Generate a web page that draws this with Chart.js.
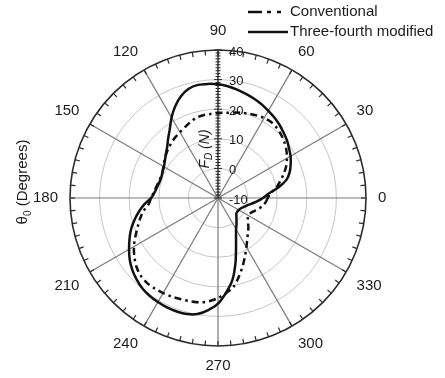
<!DOCTYPE html>
<html>
<head>
<meta charset="utf-8">
<title>Drag force polar plot</title>
<script src="https://cdn.jsdelivr.net/npm/chart.js@4.4.1/dist/chart.umd.min.js"></script>
<style>
  html, body { margin: 0; padding: 0; background: #fff; }
  #wrap { width: 445px; height: 378px; position: relative; }
</style>
</head>
<body>
<div id="wrap"><canvas id="polarChart"></canvas></div>
<script>
// sample angles, degrees counter-clockwise from the right-hand axis
const thetaDeg = [0, 5, 10, 15, 20, 25, 30, 35, 40, 45, 50, 55, 60, 65, 70, 75, 80, 85,
  90, 95, 100, 105, 110, 115, 120, 125, 130, 135, 140, 145, 150, 155, 160, 165, 170, 175,
  180, 185, 190, 195, 200, 205, 210, 215, 220, 225, 230, 235, 240, 245, 250, 255, 260, 265,
  270, 275, 280, 285, 290, 295, 300, 305, 310, 315, 320, 325, 330, 335, 340, 345, 350, 355];

// F_D (N) at each angle
const conventional = [6.8, 7.8, 10.0, 11.7, 13.6, 15.4, 16.9, 18.2, 19.3, 20.2, 20.9, 21.3,
  21.2, 20.8, 20.3, 19.8, 19.3, 18.9, 18.7, 18.5, 18.4, 18.1, 17.3, 16.4, 15.7, 15.1, 14.4,
  13.7, 12.9, 12.1, 11.3, 10.7, 10.6, 10.8, 11.2, 11.8, 12.6, 13.5, 15.6, 17.3, 18.9, 20.8,
  22.8, 24.5, 26.0, 27.0, 27.4, 27.3, 27.1, 26.8, 26.4, 26.1, 25.8, 25.0, 23.8, 22.2, 20.4,
  17.4, 14.4, 11.6, 9.2, 7.2, 5.7, 4.5, 3.3, 2.3, 1.8, 2.1, 3.0, 4.2, 5.3, 6.2];

const threeFourth = [5.2, 7.2, 10.8, 14.0, 15.8, 17.1, 18.3, 19.3, 20.4, 21.3, 22.3, 23.2,
  24.0, 24.9, 25.7, 26.4, 27.2, 27.9, 28.4, 28.7, 28.8, 28.2, 26.6, 24.2, 21.4, 18.4, 16.2,
  14.3, 13.0, 11.9, 11.1, 10.7, 10.4, 10.5, 10.9, 11.5, 12.6, 15.0, 17.2, 19.3, 21.3, 23.0,
  24.7, 26.4, 27.8, 28.9, 29.8, 30.3, 30.6, 30.8, 30.8, 30.6, 29.8, 28.0, 25.7, 22.0, 18.1,
  12.8, 7.8, 4.4, 2.2, 0.9, -0.3, -1.2, -1.9, -2.0, -1.9, -1.6, -0.9, 0.0, 1.4, 3.2];

const radialTicks = [-10, 0, 10, 20, 30, 40];
const angleTickLabels = [0, 30, 60, 90, 120, 150, 180, 210, 240, 270, 300, 330];
const seriesNames = ['Conventional', 'Three-fourth modified'];

const FONT = '"Liberation Sans", Arial, Helvetica, sans-serif';
const INK = '#1c1c1c';

// radar runs clockwise, so walk the angles backwards starting at 0
const order = thetaDeg.map((t, i) => (thetaDeg.length - i) % thetaDeg.length);
const labels = order.map(k => thetaDeg[k]);
const idxOf = theta => labels.indexOf(theta);

// rim ticks, radial axis, labels, titles and legend
const polarDecor = {
  id: 'polarDecor',
  beforeDatasetsDraw(chart) {
    const r = chart.scales.r;
    const ctx = chart.ctx;
    const R = r.drawingArea;
    const cx = r.xCenter, cy = r.yCenter;
    ctx.save();

    // small inward ticks on the outer circle
    ctx.strokeStyle = '#2b2b2b';
    ctx.lineWidth = 1.2;
    labels.forEach((t, i) => {
      const a = r.getPointPosition(i, R);
      const b = r.getPointPosition(i, R - 5);
      ctx.beginPath();
      ctx.moveTo(a.x, a.y);
      ctx.lineTo(b.x, b.y);
      ctx.stroke();
    });

    // radial value axis along the 90 degree spoke
    ctx.strokeStyle = '#222';
    ctx.lineWidth = 1;
    ctx.beginPath();
    ctx.moveTo(cx, cy);
    ctx.lineTo(cx, cy - R);
    ctx.stroke();
    for (let v = -10; v <= 40; v++) {
      const y = cy - r.getDistanceFromCenterForValue(v);
      const len = v % 10 === 0 ? 4 : 2.5;
      ctx.beginPath();
      ctx.moveTo(cx - len, y);
      ctx.lineTo(cx + len, y);
      ctx.stroke();
    }

    ctx.fillStyle = INK;
    ctx.font = '13px ' + FONT;
    ctx.textAlign = 'left';
    ctx.textBaseline = 'middle';
    radialTicks.forEach(v => {
      const y = cy - r.getDistanceFromCenterForValue(v);
      ctx.fillText(String(v), cx + 11, y + 2);
    });

    // angle labels around the rim
    ctx.font = '15px ' + FONT;
    angleTickLabels.forEach(t => {
      const p = r.getPointPosition(idxOf(t), R + 12);
      const c = Math.cos(t * Math.PI / 180), s = Math.sin(t * Math.PI / 180);
      ctx.textAlign = Math.abs(c) < 0.01 ? 'center' : (c > 0 ? 'left' : 'right');
      ctx.textBaseline = Math.abs(s) < 0.01 ? 'middle' : (s > 0 ? 'bottom' : 'top');
      ctx.fillText(String(t), p.x, p.y);
    });
    ctx.restore();
  },
  afterDraw(chart) {
    const ctx = chart.ctx;
    ctx.save();
    ctx.fillStyle = INK;
    ctx.textBaseline = 'middle';

    // F_D (N) written up the radial axis
    ctx.save();
    ctx.translate(205, 149);
    ctx.rotate(-Math.PI / 2);
    ctx.font = 'italic 14px ' + FONT;
    const wF = ctx.measureText('F').width;
    ctx.font = 'italic 10px ' + FONT;
    const wD = ctx.measureText('D').width;
    ctx.font = 'italic 14px ' + FONT;
    const wN = ctx.measureText(' (N)').width;
    let x = -(wF + wD + wN) / 2;
    ctx.textAlign = 'left';
    ctx.fillText('F', x, 0);
    x += wF;
    ctx.font = 'italic 10px ' + FONT;
    ctx.fillText('D', x, 4);
    x += wD;
    ctx.font = 'italic 14px ' + FONT;
    ctx.fillText(' (N)', x, 0);
    ctx.restore();

    // angle axis title on the left
    ctx.save();
    ctx.translate(23, 182);
    ctx.rotate(-Math.PI / 2);
    ctx.font = '15px ' + FONT;
    const wT = ctx.measureText('\u03B8').width;
    const wRest = ctx.measureText(' (Degrees)').width;
    ctx.font = '10px ' + FONT;
    const w0 = ctx.measureText('0').width;
    x = -(wT + w0 + wRest) / 2;
    ctx.textAlign = 'left';
    ctx.font = '15px ' + FONT;
    ctx.fillText('\u03B8', x, 0);
    x += wT;
    ctx.font = '10px ' + FONT;
    ctx.fillText('0', x, 5);
    x += w0;
    ctx.font = '15px ' + FONT;
    ctx.fillText(' (Degrees)', x, 0);
    ctx.restore();

    // legend
    ctx.strokeStyle = '#111';
    ctx.lineWidth = 2.5;
    ctx.setLineDash([14, 5, 4, 6, 4, 10]);
    ctx.beginPath();
    ctx.moveTo(248, 12);
    ctx.lineTo(282, 12);
    ctx.stroke();
    ctx.setLineDash([]);
    ctx.beginPath();
    ctx.moveTo(248, 32);
    ctx.lineTo(288, 32);
    ctx.stroke();
    ctx.font = '15px ' + FONT;
    ctx.textAlign = 'left';
    ctx.fillText(seriesNames[0], 290, 12);
    ctx.fillText(seriesNames[1], 290, 32);
    ctx.restore();
  }
};

const ctx = document.getElementById('polarChart').getContext('2d');
const polarChart = new Chart(ctx, {
  type: 'radar',
  data: {
    labels: labels,
    datasets: [{
      label: seriesNames[0],
      data: order.map(k => conventional[k]),
      borderColor: '#111',
      borderWidth: 2.5,
      borderDash: [7, 4, 2.5, 4],
      fill: false,
      tension: 0.3
    }, {
      label: seriesNames[1],
      data: order.map(k => threeFourth[k]),
      borderColor: '#111',
      borderWidth: 2.5,
      fill: false,
      tension: 0.3
    }]
  },
  options: {
    responsive: true,
    maintainAspectRatio: false,
    animation: false,
    layout: { padding: { left: 70, right: 79, top: 50, bottom: 32 } },
    plugins: {
      legend: { display: false },
      tooltip: { enabled: false }
    },
    elements: { point: { radius: 0, hoverRadius: 0 } },
    scales: {
      r: {
        min: -10,
        max: 40,
        startAngle: 90,
        ticks: { display: false, stepSize: 10 },
        pointLabels: { display: false },
        grid: {
          circular: true,
          color: c => c.tick.value === 40 ? '#2b2b2b' : (c.tick.value === -10 ? 'rgba(0,0,0,0)' : '#c6c6c6'),
          lineWidth: c => c.tick.value === 40 ? 1.6 : 1
        },
        angleLines: {
          color: '#7a7a7a',
          lineWidth: c => labels[c.index] % 30 === 0 ? 1.2 : 0
        }
      }
    }
  },
  plugins: [polarDecor]
});
</script>
</body>
</html>
